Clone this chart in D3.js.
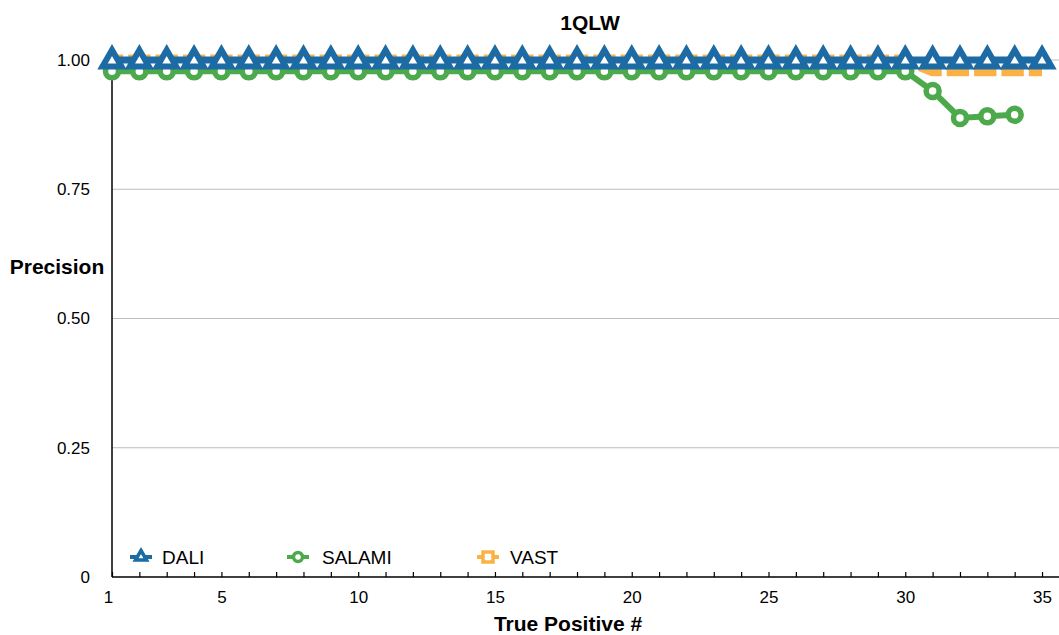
<!DOCTYPE html>
<html>
<head>
<meta charset="utf-8">
<script src="https://cdn.jsdelivr.net/npm/d3@7"></script>
<style>
  body { margin: 0; background: #fff; }
  svg { display: block; font-family: "Liberation Sans", Arial, Helvetica, sans-serif; }
</style>
</head>
<body>
<svg id="chart" width="1059" height="635"></svg>
<script>
// values
var truePositives = d3.range(1, 36);
var daliValues = [1, 1, 1, 1, 1, 1, 1, 1, 1, 1, 1, 1, 1, 1, 1, 1, 1, 1, 1, 1,
                  1, 1, 1, 1, 1, 1, 1, 1, 1, 1, 1, 1, 1, 1, 1];
var salamiValues = [0.978, 0.978, 0.978, 0.978, 0.978, 0.978, 0.978, 0.978, 0.978, 0.978,
                    0.978, 0.978, 0.978, 0.978, 0.978, 0.978, 0.978, 0.978, 0.978, 0.978,
                    0.978, 0.978, 0.978, 0.978, 0.978, 0.978, 0.978, 0.978, 0.978, 0.978,
                    0.940, 0.888, 0.891, 0.894];
var vastValues = [1, 1, 1, 1, 1, 1, 1, 1, 1, 1, 1, 1, 1, 1, 1, 1, 1, 1, 1, 1,
                  1, 1, 1, 1, 1, 1, 1, 1, 1, 1, 0.979, 0.979, 0.979, 0.979, 0.979];
var yTicks = [0, 0.25, 0.5, 0.75, 1];
var yTickLabels = ["0", "0.25", "0.50", "0.75", "1.00"];
var xTickLabels = [1, 5, 10, 15, 20, 25, 30, 35];

var colors = { DALI: "#1c6ba5", SALAMI: "#4caa4c", VAST: "#fab246" };

(function () {
    var svg = d3.select("#chart");
    var left = 112, right = 1059, plotTop = 60, bottom = 577;

    var x = d3.scaleLinear().domain([1, 35.62]).range([left, right]);
    var y = d3.scaleLinear().domain([0, 1]).range([bottom, plotTop]);

    // gridlines
    svg.append("g").selectAll("line")
        .data(yTicks.slice(1))
        .enter().append("line")
        .attr("x1", left).attr("x2", right)
        .attr("y1", function (d) { return y(d); })
        .attr("y2", function (d) { return y(d); })
        .attr("stroke", "#bdbdbd")
        .attr("stroke-width", 1.2);

    // y tick labels
    svg.append("g").selectAll("text")
        .data(yTicks)
        .enter().append("text")
        .attr("x", 90)
        .attr("y", function (d) { return y(d); })
        .attr("dy", "0.35em")
        .attr("text-anchor", "end")
        .style("font-size", "17px")
        .text(function (d, i) { return yTickLabels[i]; });

    // x axis with inward ticks
    var xAxis = d3.axisBottom(x)
        .tickValues(truePositives)
        .tickSize(-5)
        .tickFormat(function (d) { return xTickLabels.indexOf(d) >= 0 ? d : ""; });
    var gx = svg.append("g")
        .attr("transform", "translate(0," + bottom + ")")
        .call(xAxis);
    gx.select(".domain").remove();
    gx.selectAll(".tick line").attr("stroke", "#000").attr("stroke-width", 1.2);
    gx.selectAll(".tick text")
        .attr("y", 14)
        .attr("fill", "#000")
        .style("font-size", "17px")
        .style("font-family", "'Liberation Sans', Arial, sans-serif");
    gx.selectAll(".tick").filter(function (d) { return d === 1; })
        .select("text").attr("dx", -4);

    svg.append("line")
        .attr("x1", left).attr("x2", right)
        .attr("y1", bottom).attr("y2", bottom)
        .attr("stroke", "#000").attr("stroke-width", 1.5);
    svg.append("line")
        .attr("x1", left).attr("x2", left)
        .attr("y1", bottom).attr("y2", plotTop)
        .attr("stroke", "#000").attr("stroke-width", 1.5);

    function lineOf(values) {
        return d3.line()
            .x(function (d, i) { return x(truePositives[i]); })
            .y(function (d) { return y(d); })(values);
    }

    var triPath = "M0,-10L9.5,6.5L-9.5,6.5Z";
    var triSmall = "M0,-5.5L5.5,4L-5.5,4Z";

    // VAST (drawn first, underneath)
    var step = x(2) - x(1);
    svg.append("path")
        .attr("d", lineOf(vastValues))
        .attr("fill", "none")
        .attr("stroke", colors.VAST)
        .attr("stroke-width", 11)
        .attr("stroke-dasharray", (step - 5) + " 5")
        .attr("stroke-dashoffset", (step - 5) / 2);

    // SALAMI
    svg.append("path")
        .attr("d", lineOf(salamiValues))
        .attr("fill", "none")
        .attr("stroke", colors.SALAMI)
        .attr("stroke-width", 6);
    svg.append("g").selectAll("circle")
        .data(salamiValues)
        .enter().append("circle")
        .attr("cx", function (d, i) { return x(truePositives[i]); })
        .attr("cy", function (d) { return y(d); })
        .attr("r", 6.5)
        .attr("fill", "#fff")
        .attr("stroke", colors.SALAMI)
        .attr("stroke-width", 5.5);

    // DALI
    svg.append("path")
        .attr("d", lineOf(daliValues))
        .attr("fill", "none")
        .attr("stroke", colors.DALI)
        .attr("stroke-width", 7);
    svg.append("g").selectAll("path")
        .data(daliValues)
        .enter().append("path")
        .attr("transform", function (d, i) {
            return "translate(" + x(truePositives[i]) + "," + y(d) + ")";
        })
        .attr("d", triPath)
        .attr("fill", "#fff")
        .attr("stroke", colors.DALI)
        .attr("stroke-width", 6)
        .attr("stroke-linejoin", "miter");

    // legend
    var legend = [
        { name: "DALI", x: 141, tx: 162 },
        { name: "SALAMI", x: 298, tx: 322 },
        { name: "VAST", x: 488, tx: 510 }
    ];
    var ly = 557;
    var lg = svg.append("g");
    legend.forEach(function (l) {
        lg.append("line")
            .attr("x1", l.x - 11).attr("x2", l.x + 11)
            .attr("y1", ly).attr("y2", ly)
            .attr("stroke", colors[l.name]).attr("stroke-width", 4);
        if (l.name === "DALI") {
            lg.append("path").attr("transform", "translate(" + l.x + "," + (ly - 1) + ")")
                .attr("d", triSmall).attr("fill", "#fff")
                .attr("stroke", colors.DALI).attr("stroke-width", 3.5);
        } else if (l.name === "SALAMI") {
            lg.append("circle").attr("cx", l.x).attr("cy", ly).attr("r", 4.5)
                .attr("fill", "#fff").attr("stroke", colors.SALAMI).attr("stroke-width", 3.5);
        } else {
            lg.append("rect").attr("x", l.x - 5).attr("y", ly - 5)
                .attr("width", 10).attr("height", 10)
                .attr("fill", "#fff").attr("stroke", colors.VAST).attr("stroke-width", 3.5);
        }
        lg.append("text")
            .attr("x", l.tx).attr("y", ly).attr("dy", "0.35em")
            .style("font-size", "19px")
            .text(l.name);
    });

    // titles
    svg.append("text")
        .attr("x", 590).attr("y", 30)
        .attr("text-anchor", "middle")
        .style("font-size", "21px").style("font-weight", "bold")
        .text("1QLW");
    svg.append("text")
        .attr("x", 57).attr("y", 274)
        .attr("text-anchor", "middle")
        .style("font-size", "21px").style("font-weight", "bold")
        .text("Precision");
    svg.append("text")
        .attr("x", 568).attr("y", 631)
        .attr("text-anchor", "middle")
        .style("font-size", "21px").style("font-weight", "bold")
        .text("True Positive #");
})();
</script>
</body>
</html>
